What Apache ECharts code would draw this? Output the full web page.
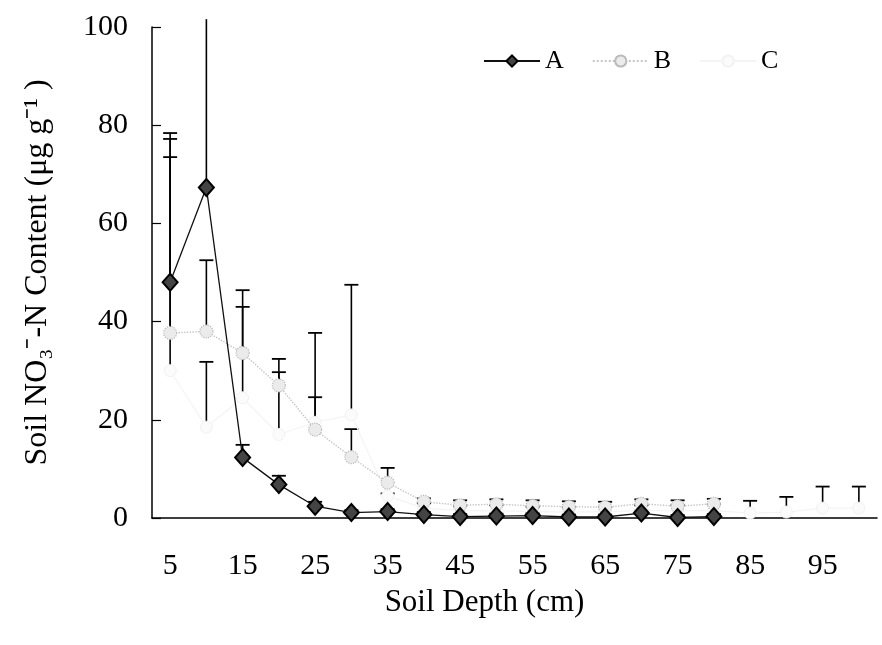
<!DOCTYPE html>
<html>
<head>
<meta charset="utf-8">
<script src="https://cdn.jsdelivr.net/npm/echarts@6/dist/echarts.min.js"></script>
<style>html,body{margin:0;padding:0;background:#fff;}#c{width:882px;height:645px;}</style>
</head>
<body>
<div id="c"></div>
<script>
// Soil depth categories (cm)
var depths = ['5','10','15','20','25','30','35','40','45','50','55','60','65','70','75','80','85','90','95','100'];
// Series mean values (µg g-1)
var seriesA = [48, 67.3, 12.3, 6.8, 2.4, 1.1, 1.3, 0.7, 0.3, 0.4, 0.5, 0.2, 0.2, 1.0, 0.1, 0.3, null, null, null, null];
var seriesB = [37.7, 38, 33.6, 27, 18, 12.4, 7.2, 3.3, 2.6, 2.8, 2.5, 2.3, 2.2, 2.9, 2.4, 2.9, null, null, null, null];
var seriesC = [30, 18.5, 24.5, 17, 19.5, 21, 4.5, 2.0, 1.5, 1.5, 1.3, 1.2, 1.3, 1.5, 1.5, 1.5, 1.0, 1.2, 2.0, 2.0];
// Upper ends of the (positive-only) error bars
var upperA = [78.4, 101.6, 14.9, 8.6, 3.3, 1.6, 1.8, 1.2, 0.8, 0.9, 1.0, 0.7, 0.7, 1.5, 0.6, 0.8, null, null, null, null];
var upperB = [73.5, 52.5, 43, 29.7, 24.6, 18.1, 10.2, 4.0, 3.6, 3.8, 3.6, 3.4, 3.3, 3.8, 3.6, 3.9, null, null, null, null];
var upperC = [77.2, 31.8, 46.4, 32.4, 37.7, 47.5, 5.0, 3.0, 2.5, 2.6, 2.3, 2.2, 2.2, 2.6, 2.6, 2.8, 3.5, 4.3, 6.4, 6.4];
var yTicks = [0, 20, 40, 60, 80, 100];

function errData(mean, upper) {
  var out = [];
  for (var i = 0; i < mean.length; i++) {
    if (mean[i] != null && upper[i] != null) out.push([i, mean[i], upper[i]]);
  }
  return out;
}
var yMax = yTicks[yTicks.length - 1];
function renderErr(params, api) {
  var x = api.value(0);
  var lo = api.coord([x, api.value(1)]);
  var hiVal = api.value(2);
  var hi = api.coord([x, hiVal]);
  var children = [{
    type: 'line',
    shape: { x1: lo[0], y1: lo[1], x2: hi[0], y2: hi[1] },
    style: { stroke: '#000', lineWidth: 1.6 }
  }];
  if (hiVal <= yMax) {
    children.push({
      type: 'line',
      shape: { x1: hi[0] - 7, y1: hi[1], x2: hi[0] + 7, y2: hi[1] },
      style: { stroke: '#000', lineWidth: 1.8 }
    });
  }
  return { type: 'group', children: children };
}

var font = 'Liberation Serif';
var chart = echarts.init(document.getElementById('c'));
chart.setOption({
  backgroundColor: '#fff',
  animation: false,
  grid: { left: 152, right: 5, top: 27, bottom: 127 },
  legend: {
    data: ['A', 'B', 'C'],
    left: 478, top: 43,
    itemWidth: 56, itemHeight: 14, itemGap: 28,
    textStyle: { fontFamily: font, fontSize: 26, color: '#000' }
  },
  xAxis: {
    type: 'category',
    data: depths,
    boundaryGap: true,
    name: 'Soil Depth (cm)',
    nameLocation: 'middle',
    nameGap: 69,
    nameTextStyle: { fontFamily: font, fontSize: 31, color: '#000', padding: [0, 60, 0, 0] },
    axisLine: { lineStyle: { color: '#000', width: 1.5 } },
    axisTick: { inside: true, length: 10, interval: 0, lineStyle: { color: '#000', width: 1.2 } },
    axisLabel: { interval: 1, margin: 33, fontFamily: font, fontSize: 30, color: '#000' },
    splitLine: { show: false }
  },
  yAxis: {
    type: 'value',
    min: yTicks[0], max: yMax, interval: 20,
    name: 'Soil NO\u2083\u207B-N Content (\u03BCg g\u207B\u00B9 )',
    nameLocation: 'middle',
    nameGap: 98,
    nameTextStyle: { fontFamily: font, fontSize: 32, color: '#000' },
    axisLine: { show: true, lineStyle: { color: '#000', width: 1.5 } },
    axisTick: { show: true, inside: true, length: 9, lineStyle: { color: '#000', width: 1.2 } },
    axisLabel: { margin: 24, fontFamily: font, fontSize: 30, color: '#000' },
    splitLine: { show: false }
  },
  series: [
    {
      name: 'errA', type: 'custom', renderItem: renderErr, data: errData(seriesA, upperA),
      z: 1, silent: true, clip: false
    },
    {
      name: 'errB', type: 'custom', renderItem: renderErr, data: errData(seriesB, upperB),
      z: 1, silent: true, clip: false
    },
    {
      name: 'errC', type: 'custom', renderItem: renderErr, data: errData(seriesC, upperC),
      z: 1, silent: true, clip: false
    },
    {
      name: 'C', type: 'line', data: seriesC, z: 3,
      symbol: 'circle', symbolSize: 12,
      lineStyle: { color: '#f4f4f4', width: 1.2 },
      itemStyle: { color: '#fbfbfb', borderColor: '#f2f2f2', borderWidth: 1 }
    },
    {
      name: 'B', type: 'line', data: seriesB, z: 4,
      symbol: 'circle', symbolSize: 13,
      lineStyle: { color: '#c4c4c4', width: 1.4, type: 'dotted' },
      itemStyle: { color: '#ebebeb', borderColor: '#bababa', borderWidth: 1.2, borderType: 'dotted' }
    },
    {
      name: 'A', type: 'line', data: seriesA, z: 5,
      symbol: 'diamond', symbolSize: [15, 17],
      lineStyle: { color: '#111', width: 1.3 },
      itemStyle: { color: '#444', borderColor: '#000', borderWidth: 2 }
    }
  ]
});
</script>
</body>
</html>
